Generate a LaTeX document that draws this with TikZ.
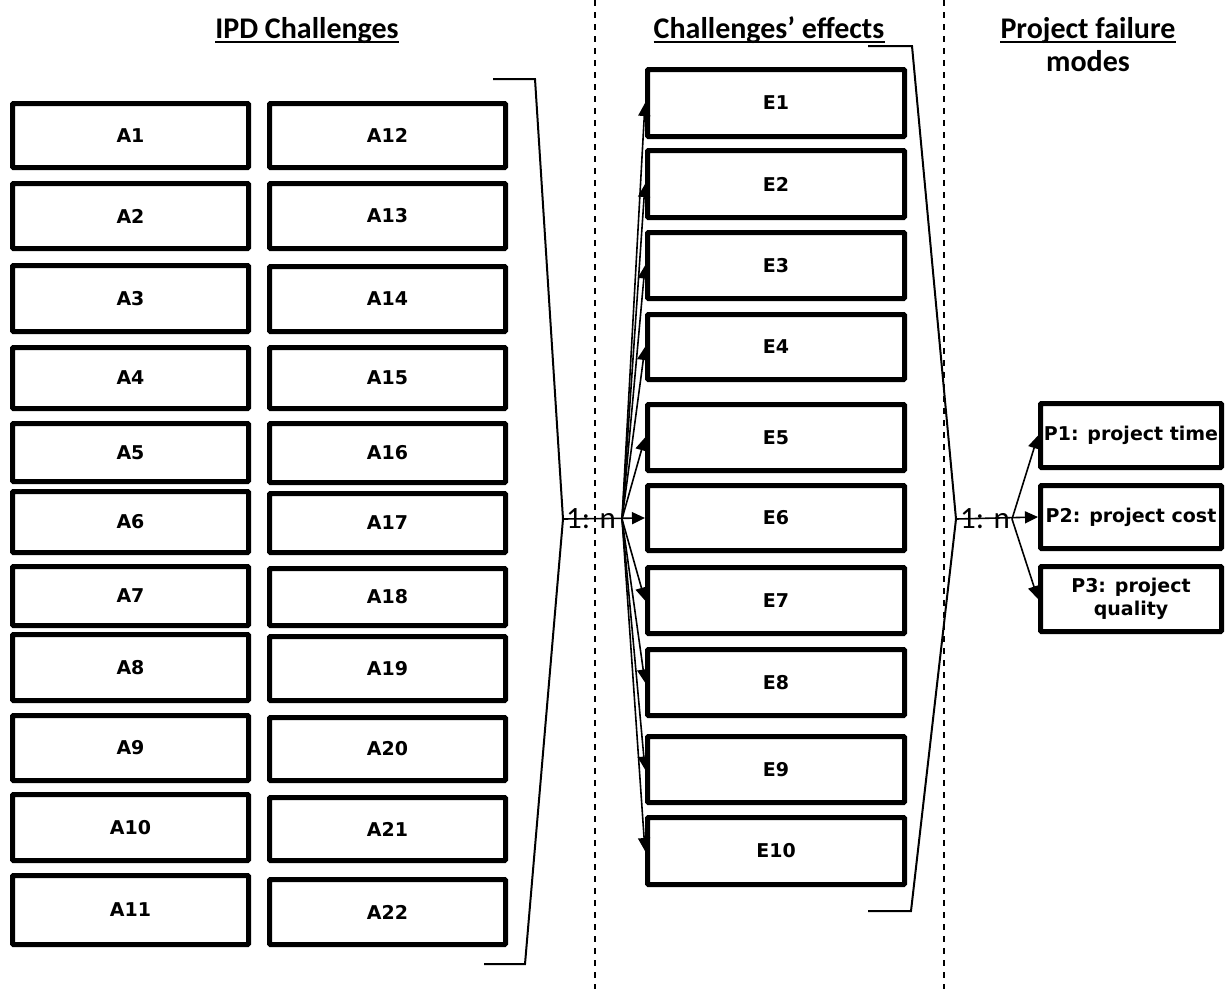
\documentclass[tikz,border=0pt]{standalone}
\usepackage{fontspec}
\setmainfont{DejaVu Sans}
\newfontfamily\hfont{Carlito}
\usetikzlibrary{arrows.meta,calc}
\tikzset{
  box/.style={draw=black, line width=5pt, rounded corners=1pt, inner sep=0pt,
    font=\bfseries\fontsize{19}{23}\selectfont, align=center},
  hdr/.style={inner sep=0pt, anchor=base, font=\hfont\bfseries\fontsize{30}{34}\selectfont},
  ratio/.style={inner sep=0pt, font=\hfont\fontsize{31}{34}\selectfont},
  brace/.style={line width=2pt, line join=miter},
  conn/.style={line width=1.6pt, -{Triangle[length=13pt,width=12pt]}},
  divider/.style={line width=1.6pt, dash pattern=on 6pt off 6pt}
}
\newcommand{\bx}[6]{\node[box, minimum width={#4-#2-5}, minimum height={#5-#3-5}] (#1) at ({(#2+#4)/2},{(#3+#5)/2}) {#6};}
\begin{document}
\begin{tikzpicture}[x=1pt,y=-1pt]
\useasboundingbox (0,0) rectangle (1226,989);
% dividers
\coordinate (d1t) at (595,0); \coordinate (d1b) at (595,989);
\coordinate (d2t) at (944,0); \coordinate (d2b) at (944,989);
\draw[divider] (d1t) -- (d1b);
\draw[divider] (d2t) -- (d2b);
% headers
\node[hdr] (h1) at (307,38) {IPD Challenges};
\node[hdr] (h2) at (769,38) {Challenges’ effects};
\node[hdr] (h3) at (1088,38) {Project failure};
\node[hdr] (h4) at (1088,71) {modes};
\foreach \h in {h1,h2,h3}{
  \draw[line width=2.6pt] ([yshift=-4pt]\h.base west) -- ([yshift=-4pt]\h.base east);
}
% column 1
\bx{A1}{10}{101}{251}{170}{A1}
\bx{A2}{10}{181}{251}{251}{A2}
\bx{A3}{10}{263}{251}{334}{A3}
\bx{A4}{10}{345}{251}{411}{A4}
\bx{A5}{10}{421}{251}{484}{A5}
\bx{A6}{10}{489}{251}{555}{A6}
\bx{A7}{10}{564}{251}{628}{A7}
\bx{A8}{10}{632}{251}{703}{A8}
\bx{A9}{10}{713}{251}{783}{A9}
\bx{A10}{10}{792}{251}{863}{A10}
\bx{A11}{10}{873}{251}{947}{A11}
% column 2
\bx{A12}{267}{101}{508}{170}{A12}
\bx{A13}{267}{181}{508}{251}{A13}
\bx{A14}{267}{264}{508}{334}{A14}
\bx{A15}{267}{345}{508}{411}{A15}
\bx{A16}{267}{421}{508}{485}{A16}
\bx{A17}{267}{491}{508}{555}{A17}
\bx{A18}{267}{566}{508}{628}{A18}
\bx{A19}{267}{634}{508}{703}{A19}
\bx{A20}{267}{715}{508}{783}{A20}
\bx{A21}{267}{795}{508}{863}{A21}
\bx{A22}{267}{877}{508}{947}{A22}
% effects
\bx{E1}{645}{67}{907}{139}{E1}
\bx{E2}{645}{148}{907}{220}{E2}
\bx{E3}{645}{230}{907}{301}{E3}
\bx{E4}{645}{312}{907}{382}{E4}
\bx{E5}{645}{402}{907}{473}{E5}
\bx{E6}{645}{483}{907}{553}{E6}
\bx{E7}{645}{565}{907}{636}{E7}
\bx{E8}{645}{647}{907}{718}{E8}
\bx{E9}{645}{734}{907}{805}{E9}
\bx{E10}{645}{815}{907}{887}{E10}
% failure modes
\bx{P1}{1038}{401}{1224}{470}{P1: project time}
\bx{P2}{1038}{483}{1224}{551}{P2: project cost}
\bx{P3}{1038}{564}{1224}{634}{P3: project\\quality}
% left brace
\coordinate (lb1) at (493,79);
\coordinate (lb2) at (535,79);
\coordinate (tipL) at (563,519);
\coordinate (lb4) at (525,964);
\coordinate (lb5) at (484,964);
\draw[brace] (lb1) -- (lb2) -- (tipL) -- (lb4) -- (lb5);
% right brace
\coordinate (rb1) at (868,46);
\coordinate (rb2) at (912,46);
\coordinate (tipR) at (956,519);
\coordinate (rb4) at (911,911);
\coordinate (rb5) at (868,911);
\draw[brace] (rb1) -- (rb2) -- (tipR) -- (rb4) -- (rb5);
% fan points
\coordinate (fanL) at (622,519);
\coordinate (fanR) at (1012,519);
% connectors
\foreach \e in {E1,E2,E3,E4,E5,E7,E8,E9,E10}{
  \draw[conn] (fanL) -- (\e.west);
}
\draw[conn] (tipL) -- (E6.west);
\draw[conn] (fanR) -- (P1.west);
\draw[conn] (fanR) -- (P3.west);
\draw[conn] (tipR) -- (P2.west);
% ratio labels
\node[ratio] (r1) at (591,519) {1: n};
\node[ratio] (r2) at (985,519) {1: n};
\end{tikzpicture}
\end{document}
